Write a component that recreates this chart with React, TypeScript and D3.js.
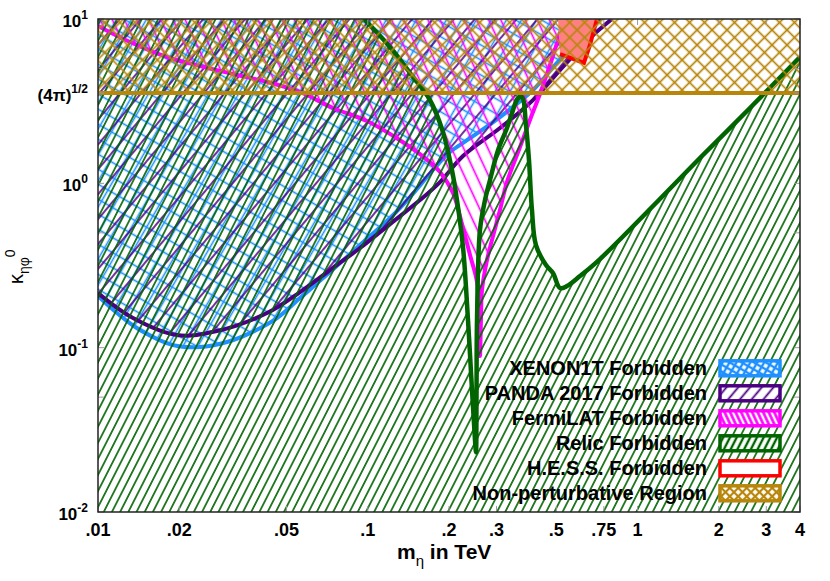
import React from "react";
import * as d3 from "d3";

const WIDTH = 830;
const HEIGHT = 581;
const PLOT = { left: 98, right: 800, top: 19, bottom: 512 };

const xTickValues = [0.01, 0.02, 0.05, 0.1, 0.2, 0.3, 0.5, 0.75, 1, 2, 3, 4];
const xTickLabels = [".01", ".02", ".05", ".1", ".2", ".3", ".5", ".75", "1", "2", "3", "4"];
const yTickValues = [0.01, 0.1, 1, Math.sqrt(4 * Math.PI), 10];
const yTickBase = ["10", "10", "10", "(4\u03c0)", "10"];
const yTickExp = ["-2", "-1", "0", "1/2", "1"];
const yMinorTicks = [0.05, 0.5, 5];

const nonPertLimit = Math.sqrt(4 * Math.PI);

const relicCurve: [number, number][] = [
  [0.0968, 10], [0.1209, 6.75], [0.1434, 4.69], [0.1701, 3.21], [0.19, 2.05],
  [0.2051, 1.205], [0.2141, 0.791], [0.2254, 0.41], [0.2352, 0.1472], [0.2434, 0.0552],
  [0.2497, 0.0274], [0.2518, 0.0231], [0.2529, 0.048], [0.254, 0.1472], [0.2605, 0.52],
  [0.272, 0.791], [0.2838, 1.047], [0.3039, 1.59], [0.328, 2.17], [0.3453, 2.79],
  [0.3604, 3.31], [0.3729, 3.35], [0.3858, 2.26], [0.3958, 1.386], [0.406, 0.688],
  [0.4201, 0.421], [0.4577, 0.318], [0.4858, 0.2844], [0.5157, 0.2305], [0.5475, 0.2371],
  [0.6117, 0.2728], [0.7257, 0.3462], [1.18, 0.7695], [1.703, 1.426], [2.61, 2.873], [4.0, 5.87],
];

const xenonCurve: [number, number][] = [
  [0.01, 0.206], [0.01176, 0.1624], [0.0143, 0.128], [0.01897, 0.1037], [0.02388, 0.1008],
  [0.03006, 0.1082], [0.0366, 0.1227], [0.04608, 0.1514], [0.05607, 0.2003], [0.0724, 0.2884],
  [0.0936, 0.421], [0.1209, 0.615], [0.1434, 0.825], [0.1744, 1.205], [0.2017, 1.55],
  [0.2333, 1.83], [0.309, 2.53], [0.4095, 3.7], [0.5026, 5.4], [0.6117, 7.45], [0.7257, 10],
];

const pandaCurve: [number, number][] = [
  [0.01, 0.2149], [0.01348, 0.1514], [0.01963, 0.1193], [0.02761, 0.1262], [0.04231, 0.1624],
  [0.05607, 0.218], [0.0724, 0.2967], [0.0936, 0.404], [0.1209, 0.565], [0.1561, 0.791],
  [0.1852, 1.018], [0.2254, 1.466], [0.309, 2.17], [0.4095, 3.21], [0.5157, 4.89],
  [0.6662, 7.66], [0.8037, 10],
];

const fermiCurve: [number, number][] = [
  [0.01, 9.07], [0.01314, 7.24], [0.018, 5.87], [0.02388, 5.18], [0.03166, 4.63],
  [0.04231, 4.14], [0.05607, 3.595], [0.0743, 2.873], [0.0993, 2.394], [0.1316, 1.83],
  [0.1629, 1.426], [0.1852, 1.172], [0.2069, 0.873], [0.2254, 0.534], [0.2393, 0.366],
  [0.254, 0.2508], [0.2583, 0.1472], [0.2605, 0.0889], [0.2627, 0.1472], [0.265, 0.2242],
  [0.2766, 0.341], [0.2886, 0.452], [0.309, 0.688], [0.328, 1.018], [0.3666, 1.66],
  [0.3991, 2.43], [0.4347, 3.497], [0.4735, 5.25], [0.507, 7.45], [0.5383, 10],
];

const hessRegion: [number, number][] = [
  [0.507, 10], [0.5157, 6.12], [0.6329, 5.4], [0.6662, 6.95], [0.7073, 10],
];
const hessBorder: [number, number][] = [
  [0.5157, 6.12], [0.6329, 5.4], [0.6662, 6.95], [0.7073, 10],
];

const legendLabels = [
  "XENON1T Forbidden",
  "PANDA 2017 Forbidden",
  "FermiLAT Forbidden",
  "Relic Forbidden",
  "H.E.S.S. Forbidden",
  "Non-perturbative Region",
];
const legendColors = ["#1e90ff", "#4b0082", "#ff00ff", "#006400", "#ff0000", "#b8860b"];
const legendPatterns = ["lg-xenon", "lg-panda", "lg-fermi", "lg-relic", "none", "lg-gold"];

const FONT = "'Liberation Sans', Arial, Helvetica, sans-serif";

export default function App() {
  const x = d3.scaleLog().domain([0.01, 4]).range([PLOT.left, PLOT.right]);
  const y = d3.scaleLog().domain([0.01, 10]).range([PLOT.bottom, PLOT.top]);

  const curve = d3
    .line<[number, number]>()
    .x((d) => x(d[0]))
    .y((d) => y(d[1]))
    .curve(d3.curveCatmullRom.alpha(0.5));
  const poly = d3
    .line<[number, number]>()
    .x((d) => x(d[0]))
    .y((d) => y(d[1]));

  const pt = (a: number, b: number) => `L${x(a)},${y(b)}`;

  const relicPath = curve(relicCurve)!;
  const relicRegion = relicPath + pt(4, 0.01) + pt(0.01, 0.01) + pt(0.01, 10) + "Z";
  const xenonPath = curve(xenonCurve)!;
  const xenonRegion = xenonPath + pt(0.01, 10) + "Z";
  const pandaPath = curve(pandaCurve)!;
  const pandaRegion = pandaPath + pt(0.01, 10) + "Z";
  const fermiPath = curve(fermiCurve)!;
  const fermiRegion = fermiPath + pt(0.01, 10) + "Z";
  const hessPath = poly(hessRegion)! + "Z";
  const hessLine = poly(hessBorder)!;

  const plotW = PLOT.right - PLOT.left;
  const yNP = y(nonPertLimit);

  const legendY0 = 368.3;
  const legendDY = 25;

  const hatch = (
    id: string,
    spacing: number,
    angle: number,
    color: string,
    sw: number,
    cross = false
  ) => (
    <pattern
      id={id}
      patternUnits="userSpaceOnUse"
      width={spacing}
      height={spacing}
      patternTransform={`rotate(${angle})`}
    >
      <line x1={spacing / 2} y1={-1} x2={spacing / 2} y2={spacing + 1} stroke={color} strokeWidth={sw} />
      {cross && (
        <line x1={-1} y1={spacing / 2} x2={spacing + 1} y2={spacing / 2} stroke={color} strokeWidth={sw} />
      )}
    </pattern>
  );

  return (
    <svg
      width={WIDTH}
      height={HEIGHT}
      style={{ position: "absolute", left: 0, top: 0, background: "#fff" }}
      fontFamily={FONT}
    >
      <defs>
        <clipPath id="plotClip">
          <rect x={PLOT.left} y={PLOT.top} width={plotW} height={PLOT.bottom - PLOT.top} />
        </clipPath>
        {hatch("p-relic", 7.3, 27, "#006400", 1.6)}
        {hatch("p-fermi", 11, -25, "#ff00ff", 1.7)}
        {hatch("p-panda", 16, 40, "#4b0082", 1.6)}
        {hatch("p-xenon", 13, 30, "#1e90ff", 1.6, true)}
        {hatch("p-gold", 10.6, 45, "#b8860b", 1.7, true)}
        {hatch("lg-relic", 6, 27, "#006400", 2.4)}
        {hatch("lg-fermi", 5, -25, "#ff00ff", 2.6)}
        {hatch("lg-panda", 9, 40, "#4b0082", 1.8)}
        {hatch("lg-xenon", 6, 30, "#1e90ff", 2.4, true)}
        {hatch("lg-gold", 6, 45, "#b8860b", 2.2, true)}
      </defs>

      <rect x={0} y={0} width={WIDTH} height={HEIGHT} fill="#fff" />

      <g clipPath="url(#plotClip)">
        <path d={xenonRegion} fill="url(#p-xenon)" />
        <path d={xenonPath} fill="none" stroke="#1e90ff" strokeWidth={4} />
        <path d={pandaRegion} fill="url(#p-panda)" />
        <path d={pandaPath} fill="none" stroke="#4b0082" strokeWidth={4} />
        <path d={fermiRegion} fill="url(#p-fermi)" />
        <path d={fermiPath} fill="none" stroke="#ff00ff" strokeWidth={4} />
        <path d={relicRegion} fill="url(#p-relic)" />
        <path d={relicPath} fill="none" stroke="#006400" strokeWidth={4.5} />
        <path d={hessPath} fill="#ff8080" />
        <path d={hessLine} fill="none" stroke="#ff0000" strokeWidth={4} />
        <rect x={PLOT.left} y={PLOT.top} width={plotW} height={yNP - PLOT.top} fill="url(#p-gold)" />
        <line x1={PLOT.left} x2={PLOT.right} y1={yNP} y2={yNP} stroke="#b8860b" strokeWidth={4} />
      </g>

      {/* ticks */}
      <g stroke="#999" strokeWidth={1}>
        {xTickValues.map((v, i) => (
          <g key={"xt" + i}>
            <line x1={x(v)} x2={x(v)} y1={PLOT.bottom} y2={PLOT.bottom - 6} />
            <line x1={x(v)} x2={x(v)} y1={PLOT.top} y2={PLOT.top + 6} />
          </g>
        ))}
        {[...yTickValues, ...yMinorTicks].map((v, i) => (
          <g key={"yt" + i}>
            <line x1={PLOT.left} x2={PLOT.left + 6} y1={y(v)} y2={y(v)} />
            <line x1={PLOT.right} x2={PLOT.right - 6} y1={y(v)} y2={y(v)} />
          </g>
        ))}
      </g>

      <rect
        x={PLOT.left}
        y={PLOT.top}
        width={plotW}
        height={PLOT.bottom - PLOT.top}
        fill="none"
        stroke="#222"
        strokeWidth={1.5}
      />

      {/* x tick labels */}
      <g fontSize={18} fontWeight="bold" textAnchor="middle" fill="#000">
        {xTickValues.map((v, i) => (
          <text key={"xl" + i} x={x(v)} y={536}>
            {xTickLabels[i]}
          </text>
        ))}
      </g>

      {/* y tick labels */}
      <g fontWeight="bold" textAnchor="end" fill="#000">
        {yTickValues.map((v, i) => (
          <text key={"yl" + i} x={88} y={y(v) + 8} fontSize={17}>
            {yTickBase[i]}
            <tspan dy={-8} fontSize={12}>
              {yTickExp[i]}
            </tspan>
          </text>
        ))}
      </g>

      {/* axis titles */}
      <text x={397} y={559} fontSize={21} fontWeight="bold" fill="#000">
        m
        <tspan dy={7} fontSize={15} fontWeight="normal">
          {"\u03b7"}
        </tspan>
        <tspan dy={-7}> in TeV</tspan>
      </text>
      <text transform="translate(23,284) rotate(-90)" fontSize={20} fill="#000">
        {"\u03ba"}
        <tspan dy={6} fontSize={14}>
          {"\u03b7\u03c6"}
        </tspan>
        <tspan dy={-14} fontSize={14}>
          0
        </tspan>
      </text>

      {/* legend */}
      <g>
        {legendLabels.map((lab, i) => {
          const cy = legendY0 + i * legendDY;
          return (
            <g key={"lg" + i}>
              <text x={707} y={cy + 7} fontSize={20} fontWeight="bold" textAnchor="end" fill="#000">
                {lab}
              </text>
              <rect x={720} y={cy - 7.5} width={60} height={15} fill="#fff" />
              <rect
                x={720}
                y={cy - 7.5}
                width={60}
                height={15}
                fill={legendPatterns[i] === "none" ? "#fff" : `url(#${legendPatterns[i]})`}
                stroke={legendColors[i]}
                strokeWidth={3.5}
              />
            </g>
          );
        })}
      </g>
    </svg>
  );
}
